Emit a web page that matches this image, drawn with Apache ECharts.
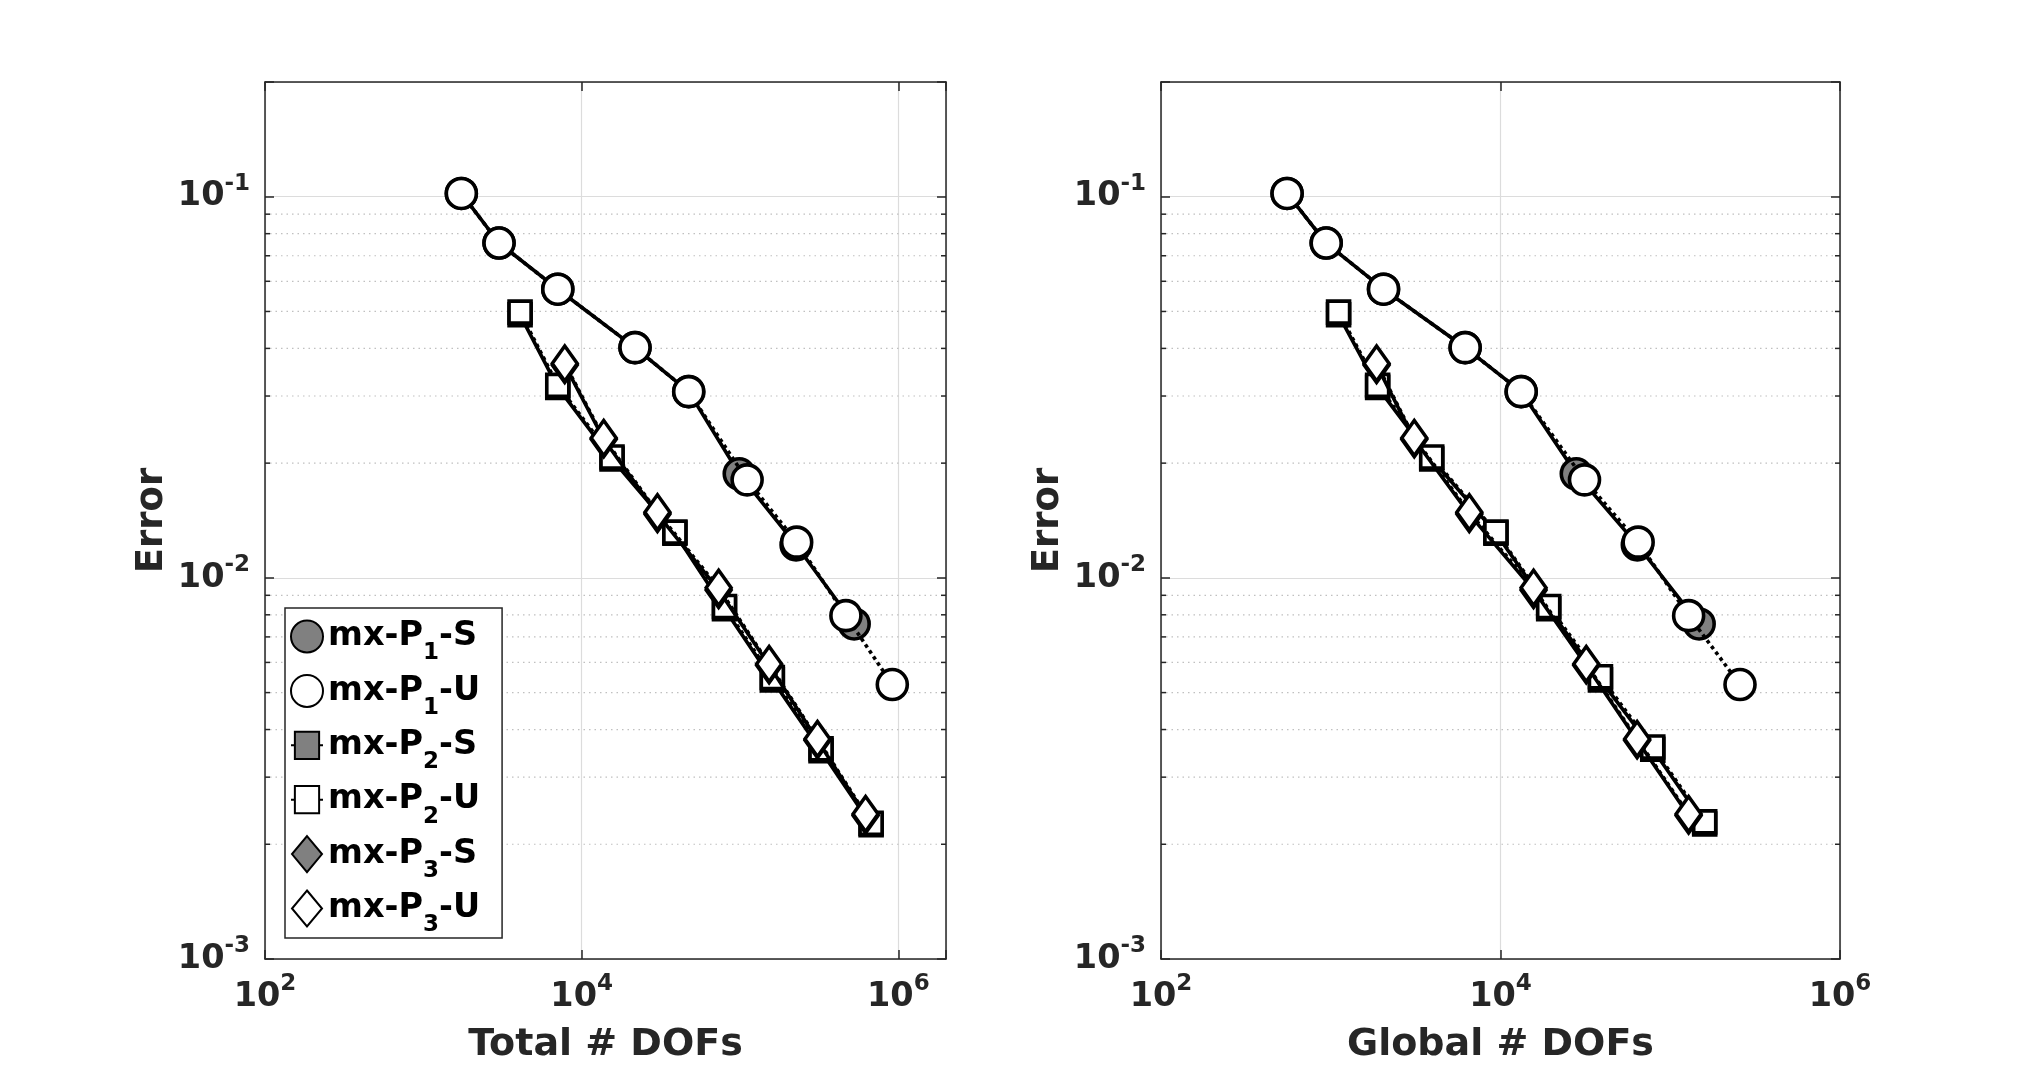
<!DOCTYPE html>
<html><head><meta charset="utf-8">
<script src="https://cdn.jsdelivr.net/npm/echarts@6/dist/echarts.min.js"></script>
<style>html,body{margin:0;padding:0;background:#fff}#c{width:2033px;height:1077px}</style>
</head><body><div id="c"></div>
<script>
// ---------- data ----------
const seriesNames = ['mx-P1-S', 'mx-P1-U', 'mx-P2-S', 'mx-P2-U', 'mx-P3-S', 'mx-P3-U'];

// left panel: Total # DOFs
const totP1S_x = [1738, 3006, 7066, 21720, 47430, 98900, 226000, 526000];
const totP1S_y = [0.102, 0.0756, 0.0572, 0.0402, 0.0308, 0.01875, 0.0122, 0.00757];
const totP1U_x = [1738, 3006, 7066, 21720, 47430, 110900, 228000, 466500, 916000];
const totP1U_y = [0.102, 0.0756, 0.0572, 0.0402, 0.0308, 0.01808, 0.01241, 0.00796, 0.00525];
const totP2S_x = [4083, 7066, 15550, 38800, 79800, 160000, 325000, 673000];
const totP2S_y = [0.0490, 0.0316, 0.0205, 0.0131, 0.0083, 0.0054, 0.00352, 0.00225];
const totP2U_x = [4083, 7066, 15550, 38800, 79800, 160000, 325000, 673000];
const totP2U_y = [0.0498, 0.0320, 0.02075, 0.01318, 0.00841, 0.00548, 0.00356, 0.00227];
const totP3S_x = [7820, 13780, 30100, 73300, 152700, 308500, 621000];
const totP3S_y = [0.0362, 0.0231, 0.0147, 0.0093, 0.0059, 0.00375, 0.00238];
const totP3U_x = [7820, 13780, 30100, 73300, 152700, 308500, 621000];
const totP3U_y = [0.0365, 0.02328, 0.01486, 0.00942, 0.00594, 0.00378, 0.0024];

// right panel: Global # DOFs
const gloP1S_x = [553, 940, 2046, 6190, 13240, 27950, 64000, 148000];
const gloP1S_y = [0.102, 0.0756, 0.0572, 0.0402, 0.0308, 0.01875, 0.0122, 0.00757];
const gloP1U_x = [553, 940, 2046, 6190, 13240, 31250, 64700, 128300, 257600];
const gloP1U_y = [0.102, 0.0756, 0.0572, 0.0402, 0.0308, 0.01808, 0.01241, 0.00796, 0.00525];
const gloP2S_x = [1112, 1889, 3935, 9400, 19230, 38800, 78900, 159600];
const gloP2S_y = [0.0490, 0.0316, 0.0205, 0.0131, 0.0083, 0.0054, 0.00355, 0.00226];
const gloP2U_x = [1112, 1889, 3935, 9400, 19230, 38800, 78900, 159600];
const gloP2U_y = [0.0498, 0.0320, 0.02075, 0.01318, 0.00841, 0.0055, 0.0036, 0.00229];
const gloP3S_x = [1862, 3105, 6550, 15660, 32000, 63800, 128300];
const gloP3S_y = [0.0362, 0.0231, 0.0147, 0.0093, 0.0059, 0.00375, 0.00238];
const gloP3U_x = [1862, 3105, 6550, 15660, 32000, 63800, 128300];
const gloP3U_y = [0.0365, 0.02328, 0.01486, 0.00942, 0.00594, 0.00378, 0.0024];

// axes
const xTitles = ['Total # DOFs', 'Global # DOFs'];
const yTitle = 'Error';
const xMin = 100;
const xMaxes = [2e6, 1e6];
const yMin = 0.001, yMax = 0.2;
const minorYTicks = [0.002, 0.003, 0.004, 0.005, 0.006, 0.007, 0.008, 0.009,
                     0.02, 0.03, 0.04, 0.05, 0.06, 0.07, 0.08, 0.09];

// ---------- build ----------
const FONT = 'DejaVu Sans';
const DARK = '#262626';
const zip = (xs, ys) => xs.map((x, i) => [x, ys[i]]);

const panels = [
  [[totP1S_x, totP1S_y], [totP1U_x, totP1U_y], [totP2S_x, totP2S_y], [totP2U_x, totP2U_y], [totP3S_x, totP3S_y], [totP3U_x, totP3U_y]],
  [[gloP1S_x, gloP1S_y], [gloP1U_x, gloP1U_y], [gloP2S_x, gloP2S_y], [gloP2U_x, gloP2U_y], [gloP3S_x, gloP3S_y], [gloP3U_x, gloP3U_y]]
];

const grids = [
  { left: 265, top: 82, width: 681, height: 877 },
  { left: 1161, top: 82, width: 679, height: 877 }
];

function powLabel(v) {
  const l = Math.log10(v);
  const e = Math.round(l);
  if (Math.abs(l - e) > 1e-6) return '';
  return '{b|10}{p|' + e + '}';
}
const labelRich = {
  b: { fontFamily: FONT, fontSize: 33.5, fontWeight: 'bold', color: DARK, lineHeight: 48 },
  p: { fontFamily: FONT, fontSize: 23, fontWeight: 'bold', color: DARK, lineHeight: 22, verticalAlign: 'top' }
};
const axisLineStyle = { color: DARK, width: 1.5 };

const xAxes = [], yAxes = [], series = [];
grids.forEach((g, gi) => {
  const base = {
    gridIndex: gi, type: 'log', logBase: 10,
    axisLine: { show: true, onZero: false, lineStyle: axisLineStyle },
    axisTick: { show: true, inside: true, length: 9, lineStyle: axisLineStyle },
    minorTick: { show: false }, minorSplitLine: { show: false }
  };
  xAxes.push(Object.assign({}, base, {
    position: 'bottom', min: xMin, max: xMaxes[gi], interval: 2,
    splitLine: { show: true, lineStyle: { color: '#dcdcdc', width: 1.2 } },
    axisLabel: { show: true, margin: 14, formatter: powLabel, rich: labelRich },
    name: xTitles[gi], nameLocation: 'middle', nameGap: 67, nameMoveOverlap: false,
    nameTextStyle: { fontFamily: FONT, fontSize: 38, fontWeight: 'bold', color: DARK }
  }));
  xAxes.push(Object.assign({}, base, {
    position: 'top', min: xMin, max: xMaxes[gi], interval: 2,
    splitLine: { show: false }, axisLabel: { show: false }
  }));
  yAxes.push(Object.assign({}, base, {
    position: 'left', min: yMin, max: yMax, interval: 1,
    splitLine: { show: true, lineStyle: { color: '#dcdcdc', width: 1.2 } },
    axisLabel: { show: true, margin: 15, formatter: powLabel, rich: labelRich },
    name: yTitle, nameLocation: 'middle', nameGap: 94, nameMoveOverlap: false,
    nameTextStyle: { fontFamily: FONT, fontSize: 37, fontWeight: 'bold', color: DARK }
  }));
  yAxes.push(Object.assign({}, base, {
    position: 'right', min: yMin, max: yMax, interval: 1,
    splitLine: { show: false }, axisLabel: { show: false }
  }));

  // minor y grid lines + minor ticks (drawn through the axis scales)
  const xMax = xMaxes[gi];
  series.push({
    type: 'custom', xAxisIndex: gi * 2, yAxisIndex: gi * 2, silent: true, z: 1,
    data: minorYTicks.map(v => [xMin, v]),
    renderItem: function (params, api) {
      const y = api.value(1);
      const a = api.coord([xMin, y]);
      const b = api.coord([xMax, y]);
      return {
        type: 'group', children: [
          { type: 'line', shape: { x1: a[0] + 5, y1: a[1], x2: b[0] - 5, y2: b[1] },
            style: { stroke: '#c0c0c0', lineWidth: 1.2, lineDash: [1.5, 4] } },
          { type: 'line', shape: { x1: a[0], y1: a[1], x2: a[0] + 5, y2: a[1] },
            style: { stroke: DARK, lineWidth: 1.5 } },
          { type: 'line', shape: { x1: b[0] - 5, y1: b[1], x2: b[0], y2: b[1] },
            style: { stroke: DARK, lineWidth: 1.5 } }
        ]
      };
    }
  });

  const symbols = ['circle', 'circle', 'rect', 'rect', 'diamond', 'diamond'];
  const sizes = [30, 30, 22, 22, [25, 35], [25, 35]];
  panels[gi].forEach((d, si) => {
    const filled = si % 2 === 0;
    series.push({
      name: seriesNames[si], type: 'line', xAxisIndex: gi * 2, yAxisIndex: gi * 2,
      data: zip(d[0], d[1]), symbol: symbols[si], symbolSize: sizes[si], showSymbol: true,
      showAllSymbol: true, z: 3 + si * 0.01,
      lineStyle: { color: '#000', width: 3.6, type: filled ? 'solid' : 'dotted' },
      itemStyle: { color: filled ? '#808080' : '#ffffff', borderColor: '#000', borderWidth: 3.6 },
      emphasis: { disabled: true }, animation: false
    });
  });
});

const legendIcons = {
  circle: 'circle',
  rect: 'path://M0,14H4M29,14H33M4,0H29V28H4Z',
  diamond: 'path://M15,0L30,18L15,36L0,18Z'
};
const legendSym = ['circle', 'circle', 'rect', 'rect', 'diamond', 'diamond'];

const option = {
  backgroundColor: '#ffffff',
  animation: false,
  grid: grids,
  xAxis: xAxes,
  yAxis: yAxes,
  legend: {
    show: true, orient: 'vertical', left: 285, top: 608,
    itemWidth: 32, itemHeight: 36, itemGap: -2.6,
    padding: [0, 22, 1, 5],
    borderColor: DARK, borderWidth: 1.5, backgroundColor: '#ffffff',
    selectedMode: false,
    data: seriesNames.map((n, i) => ({ name: n, icon: legendIcons[legendSym[i]] })),
    formatter: function (name) {
      const m = name.match(/^(mx-P)(\d)(-[SU])$/);
      return '{t|' + m[1] + '}{s|' + m[2] + '}{t|' + m[3] + '}';
    },
    textStyle: {
      rich: {
        t: { fontFamily: FONT, fontSize: 33.5, fontWeight: 'bold', color: '#000', lineHeight: 56 },
        s: { fontFamily: FONT, fontSize: 23, fontWeight: 'bold', color: '#000', lineHeight: 22, padding: [34, 0, 0, 0] }
      }
    }
  },
  series: series
};

const chart = echarts.init(document.getElementById('c'), null, { renderer: 'canvas' });
chart.setOption(option);
</script>
</body></html>
